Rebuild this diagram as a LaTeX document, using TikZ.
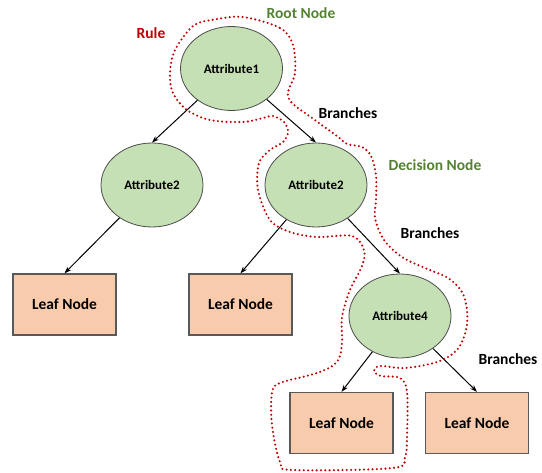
\documentclass[tikz,border=0pt]{standalone}
\usepackage{fontspec}
\setmainfont{Carlito}
\usetikzlibrary{arrows.meta,shapes.geometric}

\definecolor{attrfill}{HTML}{C5E0B4}
\definecolor{leaffill}{HTML}{F8CBAD}
\definecolor{nodegreen}{HTML}{548235}
\definecolor{rulered}{HTML}{C00000}

\tikzset{
    attr/.style={ellipse, draw=black!70, line width=0.8pt, fill=attrfill,
        minimum width=102pt, minimum height=84pt, inner sep=0pt,
        font=\fontsize{13}{15}\selectfont\bfseries},
    leaf/.style={rectangle, draw=black!65, line width=1.3pt, fill=leaffill,
        minimum width=103pt, minimum height=61pt, inner sep=0pt,
        font=\fontsize{15.5}{18}\selectfont\bfseries},
    tag/.style={font=\fontsize{15.5}{18}\selectfont\bfseries, inner sep=0pt},
    branch/.style={line width=1pt, -{Stealth[length=7pt,width=5pt]}},
    rulepath/.style={rulered, line width=2.3pt, line cap=round,
        dash pattern=on 0pt off 4.3pt},
}

\begin{document}
\begin{tikzpicture}[x=1pt,y=-1pt]
    \useasboundingbox (0,0) rectangle (542,473);

    % tree nodes
    \node[attr] (a1) at (231.5,68.5) {Attribute1};
    \node[attr] (a2l) at (152,185) {Attribute2};
    \node[attr] (a2r) at (316,185) {Attribute2};
    \node[attr] (a4) at (400,316) {Attribute4};
    \node[leaf] (l1) at (64.5,304.5) {Leaf Node};
    \node[leaf] (l2) at (240.5,304.5) {Leaf Node};
    \node[leaf] (l3) at (341.5,423) {Leaf Node};
    \node[leaf] (l4) at (477,423) {Leaf Node};

    % branches
    \draw[branch] (a1) -- (a2l.north);
    \draw[branch] (a1) -- (a2r.north);
    \draw[branch] (a2l) -- (l1.north);
    \draw[branch] (a2r) -- (l2.north);
    \draw[branch] (a2r) -- (a4.north);
    \draw[branch] (a4) -- (l3.north);
    \draw[branch] (a4) -- (l4.north);

    % the rule, traced round one path of the tree
    \draw[rulepath] plot[smooth cycle, tension=0.55] coordinates {
        (243,17) (280,28) (293,45) (295,73) (288,92) (292,103) (312,118)
        (337,136) (347,144) (362,147) (371,156) (376,175) (376,200)
        (375,218) (384,240) (402,257) (425,268) (448,278) (462,292)
        (467,310) (466,330) (457,350) (437,362) (405,368) (380,366)
        (374,371) (381,376) (400,378) (407,392) (407,437) (405,457)
        (393,468) (293,470) (280,462) (272,425) (272,393) (280,383)
        (317,373) (337,362) (342,343) (342,317) (350,290) (362,266)
        (364,250) (352,236) (317,237) (290,232) (270,220) (258,190)
        (259,163) (270,150) (283,142) (288,132) (284,122) (273,116)
        (263,118) (243,122) (210,120) (187,110) (173,93) (170,73)
        (175,50) (193,26) (212,20)
    };

    % labels
    \node[tag, text=nodegreen] (rootlbl) at (301,13) {Root Node};
    \node[tag, text=rulered] (rulelbl) at (151,33) {Rule};
    \node[tag] (br1) at (348,113) {Branches};
    \node[tag, text=nodegreen] (declbl) at (435,165) {Decision Node};
    \node[tag] (br2) at (430,233) {Branches};
    \node[tag] (br3) at (508,359) {Branches};
\end{tikzpicture}
\end{document}
